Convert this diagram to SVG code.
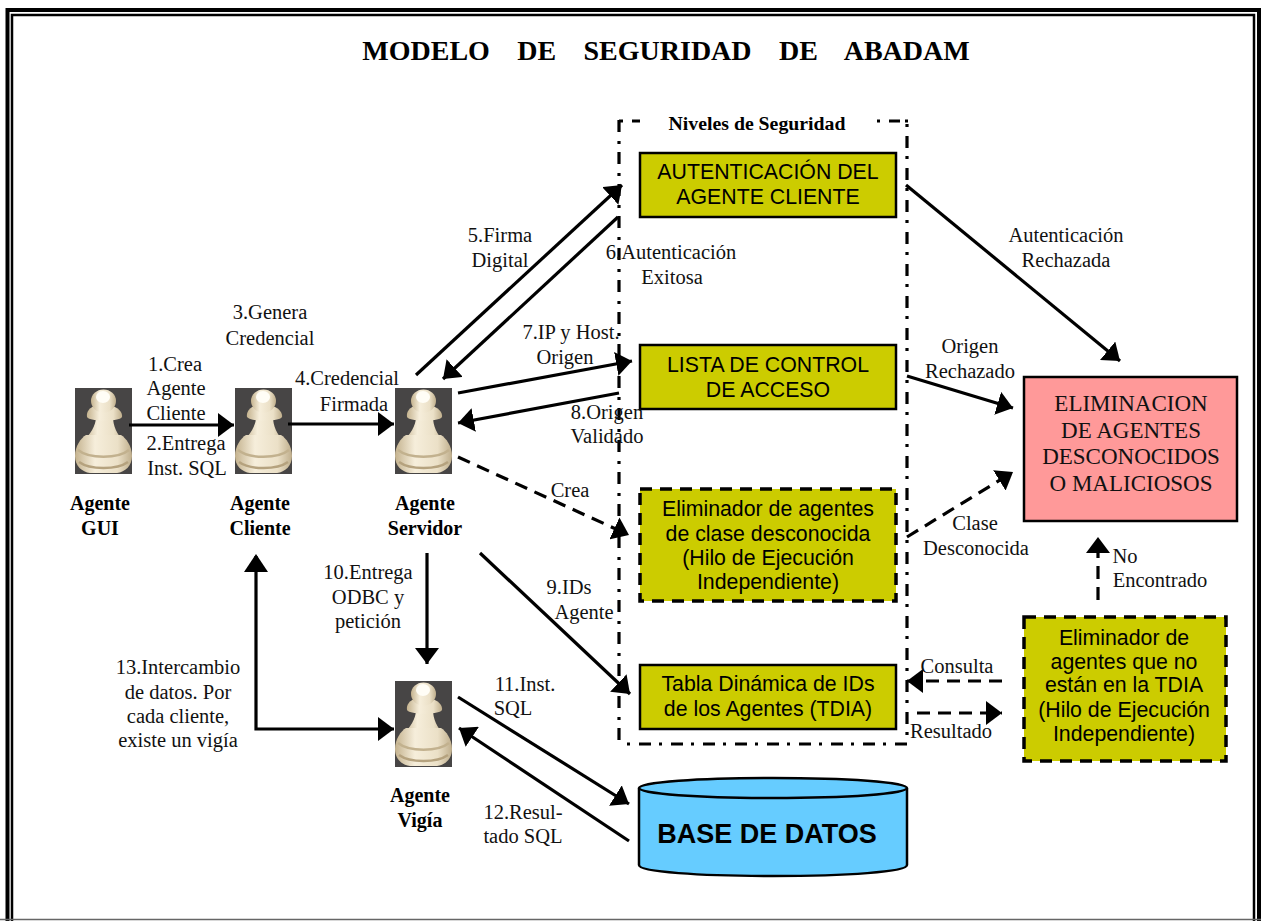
<svg xmlns="http://www.w3.org/2000/svg" width="1261" height="921" viewBox="0 0 1261 921">
<style>
.t{font-family:"Liberation Serif",serif;font-size:20.500px;fill:#111;text-anchor:middle}
.b{font-family:"Liberation Serif",serif;font-size:20px;font-weight:bold;fill:#000;text-anchor:middle}
.s{font-family:"Liberation Sans",sans-serif;font-size:21.300px;fill:#000;text-anchor:middle}
.e{font-family:"Liberation Serif",serif;font-size:23px;fill:#111;text-anchor:middle}
.c{fill:none;stroke:#000;stroke-width:3.200}
.d{fill:none;stroke:#000;stroke-width:3.200;stroke-dasharray:13 8}
.n{fill:none;stroke:#000;stroke-width:3.200}
.y{fill:#cc0;stroke:#000;stroke-width:2.500}
.yd{fill:#cc0;stroke:#000;stroke-width:3.500;stroke-dasharray:12 8}
</style>
<defs>
<marker id="a" markerUnits="userSpaceOnUse" markerWidth="17" markerHeight="24" refX="16" refY="12" orient="auto"><path d="M0 0L16 12L0 24z" fill="#000"/></marker>
<linearGradient id="pw" x1="0" x2="1" y1="0" y2="0"><stop offset="0" stop-color="#c4b28e"/><stop offset=".35" stop-color="#f6eedb"/><stop offset=".75" stop-color="#ebe0c7"/><stop offset="1" stop-color="#bfae8c"/></linearGradient>
<g id="pawn">
<rect width="57" height="86" fill="#474545"/>
<path d="M21 29C21 38 15 46 8 54L49 54C42 46 38 38 38 29z" fill="url(#pw)"/>
<path d="M0 68C0 58 6 50 11 47L46 47C51 50 57 58 57 68C57 78 50 84 42 85L15 85C7 84 0 78 0 68z" fill="url(#pw)"/>
<path d="M3 62C14 71 43 71 54 62" fill="none" stroke="#c2b18e" stroke-width="2.500"/>
<path d="M4 74C15 82 42 82 53 74" fill="none" stroke="#b5a27e" stroke-width="2.500"/>
<path d="M12 29C11 24 15 19 20 18L37 18C42 19 48 24 47 29C44 34 15 34 12 29z" fill="url(#pw)"/>
<ellipse cx="28.500" cy="13" rx="12.500" ry="11.500" fill="url(#pw)"/>
<ellipse cx="28" cy="9" rx="7" ry="6" fill="#fffdf6"/>
</g>
</defs>
<rect width="1261" height="921" fill="#fff"/>
<g id="frame" fill="none">
<path d="M7.500 921V10H1259V921" stroke="#000" stroke-width="4"/>
<path d="M12 921V15H1254V921" stroke="#000" stroke-width="2.500"/>
<path d="M0 919.500H1261" stroke="#666" stroke-width="1.500"/>
</g>
<text id="title" x="666" y="60" font-family="Liberation Serif, serif" font-size="28" font-weight="bold" text-anchor="middle" xml:space="preserve" word-spacing="6.700" fill="#000">MODELO  DE  SEGURIDAD  DE  ABADAM</text>

<g id="agente-gui"><use href="#pawn" x="75" y="388"/><text class="b" x="100" y="510">Agente</text><text class="b" x="100" y="535">GUI</text></g>
<g id="agente-cliente"><use href="#pawn" x="235" y="388"/><text class="b" x="260" y="510">Agente</text><text class="b" x="260" y="535">Cliente</text></g>
<g id="agente-servidor"><use href="#pawn" x="395" y="388"/><text class="b" x="425" y="510">Agente</text><text class="b" x="425" y="535">Servidor</text></g>
<g id="agente-vigia"><use href="#pawn" x="395" y="681"/><text class="b" x="420" y="802">Agente</text><text class="b" x="420" y="827">Vigía</text></g>

<g id="niveles">
<path class="n" d="M619 120V743" stroke-dasharray="12 9 3 8"/>
<path class="n" d="M907 124V743" stroke-dasharray="3 9 12 8"/>
<path class="n" d="M627 744H907" stroke-dasharray="3 9 12 8"/>
<path class="n" d="M619 121H623M632 121H640M877 121H880M889 121H900M905 121H908"/>
<text x="757" y="130" font-family="Liberation Serif, serif" font-size="19.800" font-weight="bold" text-anchor="middle">Niveles de Seguridad</text></g>

<g id="nivel-autenticacion"><rect class="y" x="640" y="153" width="256" height="64"/><text class="s" x="768" y="179">AUTENTICACIÓN DEL</text><text class="s" x="768" y="204">AGENTE CLIENTE</text></g>
<g id="nivel-acceso"><rect class="y" x="640" y="345" width="256" height="64"/><text class="s" x="768" y="372">LISTA DE CONTROL</text><text class="s" x="768" y="397">DE ACCESO</text></g>
<g id="eliminador-clase"><rect class="yd" x="640" y="489" width="256" height="112"/><text class="s" x="768" y="516">Eliminador de agentes</text><text class="s" x="768" y="541">de clase desconocida</text><text class="s" x="768" y="565">(Hilo de Ejecución</text><text class="s" x="768" y="589">Independiente)</text></g>
<g id="nivel-tdia"><rect class="y" x="640" y="665" width="256" height="64"/><text class="s" x="768" y="691">Tabla Dinámica de IDs</text><text class="s" x="768" y="716">de los Agentes (TDIA)</text></g>
<g id="eliminacion"><rect x="1024" y="377" width="213" height="144" fill="#f99" stroke="#000" stroke-width="2.500"/><text class="e" x="1131" y="411">ELIMINACION</text><text class="e" x="1131" y="438">DE AGENTES</text><text class="e" x="1131" y="464">DESCONOCIDOS</text><text class="e" x="1131" y="491">O MALICIOSOS</text></g>
<g id="eliminador-tdia"><rect class="yd" x="1024" y="617" width="202" height="144"/><text class="s" x="1124" y="645">Eliminador de</text><text class="s" x="1124" y="669">agentes que no</text><text class="s" x="1124" y="692">están en la TDIA</text><text class="s" x="1124" y="717">(Hilo de Ejecución</text><text class="s" x="1124" y="741">Independiente)</text></g>
<g id="base-datos"><path d="M639 788V865C639 872 700 876 773 876C846 876 907 872 907 865V788C907 782 846 778 773 778C700 778 639 782 639 788z" fill="#6cf" stroke="#000" stroke-width="2.500"/><path d="M639 788C639 794 700 798 773 798C846 798 907 794 907 788" fill="none" stroke="#000" stroke-width="2.500"/><text x="767" y="843" font-family="Liberation Sans, sans-serif" font-size="27" font-weight="bold" text-anchor="middle">BASE DE DATOS</text></g>

<g id="connectors">
<path class="c" d="M129 425H234" marker-end="url(#a)"/>
<path class="c" d="M288 424H394" marker-end="url(#a)"/>
<path class="c" d="M416 375L622 185" marker-end="url(#a)"/>
<path class="c" d="M618 217L443 379" marker-end="url(#a)"/>
<path class="c" d="M458 393L632 361" marker-end="url(#a)"/>
<path class="c" d="M619 393L458 423" marker-end="url(#a)"/>
<path class="d" d="M458 457L629 535" marker-end="url(#a)"/>
<path class="c" d="M480 553L630 694" marker-end="url(#a)"/>
<path class="c" d="M427 553V664" marker-end="url(#a)"/>
<path class="c" d="M256 556V729H394" marker-end="url(#a)"/>
<path class="c" d="M458 697L629 804" marker-end="url(#a)"/>
<path class="c" d="M629 841L459 728" marker-end="url(#a)"/>
<path class="c" d="M906 185L1120 361" marker-end="url(#a)"/>
<path class="c" d="M907 376L1013 408" marker-end="url(#a)"/>
<path class="d" d="M907 537L1013 472" marker-end="url(#a)"/>
<path class="d" d="M1098 600V537" marker-end="url(#a)"/>
<path class="d" d="M1002 681H907" marker-end="url(#a)"/>
<path class="d" d="M917 713H1002" marker-end="url(#a)"/>
<path d="M256 554L244 572H268z" fill="#000"/>
</g>

<g id="labels" transform="translate(0 1)">
<text class="t" x="175" y="370">1.Crea</text><text class="t" x="176" y="394">Agente</text><text class="t" x="176" y="419">Cliente</text>
<text class="t" x="186" y="449">2.Entrega</text><text class="t" x="187" y="474">Inst. SQL</text>
<text class="t" x="270" y="318">3.Genera</text><text class="t" x="270" y="344">Credencial</text>
<text class="t" x="347" y="384">4.Credencial</text><text class="t" x="354" y="410">Firmada</text>
<text class="t" x="500" y="241">5.Firma</text><text class="t" x="500" y="266">Digital</text>
<text class="t" x="671" y="258">6.Autenticación</text><text class="t" x="672" y="283">Exitosa</text>
<text class="t" x="571" y="338">7.IP y Host.</text><text class="t" x="565" y="363">Origen</text>
<text class="t" x="607" y="418">8.Origen</text><text class="t" x="607" y="442">Validado</text>
<text class="t" x="570" y="496">Crea</text>
<text class="t" x="569" y="593">9.IDs</text><text class="t" x="584" y="618">Agente</text>
<text class="t" x="368" y="578">10.Entrega</text><text class="t" x="368" y="603">ODBC y</text><text class="t" x="368" y="627">petición</text>
<text class="t" x="178" y="673">13.Intercambio</text><text class="t" x="178" y="698">de datos. Por</text><text class="t" x="178" y="722">cada cliente,</text><text class="t" x="178" y="746">existe un vigía</text>
<text class="t" x="525" y="690">11.Inst.</text><text class="t" x="513" y="714">SQL</text>
<text class="t" x="523" y="818">12.Resul-</text><text class="t" x="523" y="842">tado SQL</text>
<text class="t" x="1066" y="241">Autenticación</text><text class="t" x="1066" y="266">Rechazada</text>
<text class="t" x="970" y="352">Origen</text><text class="t" x="970" y="377">Rechazado</text>
<text class="t" x="975" y="529">Clase</text><text class="t" x="976" y="554">Desconocida</text>
<text class="t" x="1125" y="562">No</text><text class="t" x="1160" y="586">Encontrado</text>
<text class="t" x="957" y="672">Consulta</text>
<text class="t" x="951" y="737">Resultado</text>
</g>
</svg>
